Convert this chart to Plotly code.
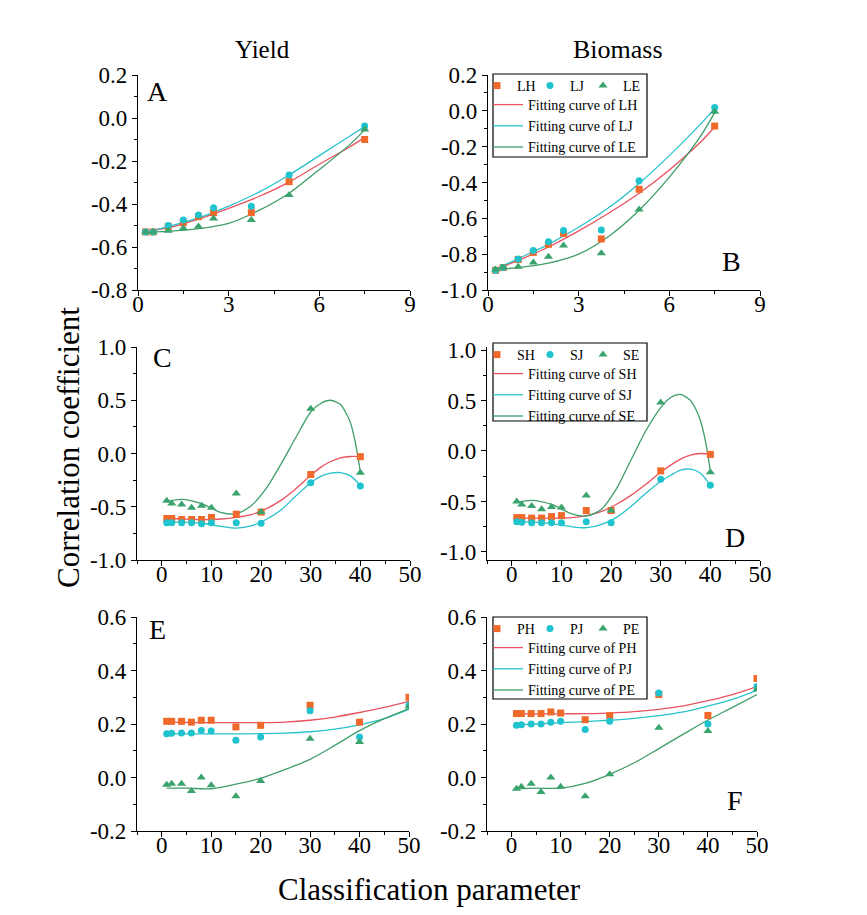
import plotly.graph_objects as go

W, H = 867, 915

# ---------------- data ----------------
# Panels A (Yield) / B (Biomass): L-series
x_L = [0.25, 0.5, 1, 1.5, 2, 2.5, 3.75, 5, 7.5]
A_LH = [-0.53, -0.53, -0.505, -0.487, -0.459, -0.44, -0.44, -0.296, -0.10]
A_LJ = [-0.53, -0.53, -0.50, -0.474, -0.451, -0.417, -0.41, -0.265, -0.037]
A_LE = [-0.53, -0.53, -0.524, -0.513, -0.505, -0.467, -0.474, -0.358, -0.053]
B_LH = [-0.89, -0.875, -0.83, -0.79, -0.745, -0.684, -0.715, -0.438, -0.085]
B_LJ = [-0.89, -0.875, -0.827, -0.78, -0.73, -0.668, -0.665, -0.39, 0.018]
B_LE = [-0.885, -0.875, -0.87, -0.847, -0.814, -0.752, -0.795, -0.55, -0.005]

xf_L = [0.25, 1, 2, 3, 4, 5, 6, 7, 7.5]
A_LH_fit = [-0.53, -0.51, -0.47, -0.42, -0.365, -0.298, -0.215, -0.135, -0.09]
A_LJ_fit = [-0.53, -0.505, -0.465, -0.41, -0.345, -0.265, -0.175, -0.085, -0.04]
A_LE_fit = [-0.53, -0.527, -0.515, -0.49, -0.43, -0.35, -0.24, -0.125, -0.055]
B_LH_fit = [-0.885, -0.835, -0.76, -0.67, -0.57, -0.46, -0.33, -0.18, -0.09]
B_LJ_fit = [-0.885, -0.825, -0.745, -0.65, -0.54, -0.405, -0.25, -0.08, 0.014]
B_LE_fit = [-0.885, -0.875, -0.85, -0.80, -0.70, -0.555, -0.37, -0.15, -0.01]

# Panels C / D: S-series
x_S = [1, 2, 4, 6, 8, 10, 15, 20, 30, 40]
C_SH = [-0.61, -0.61, -0.62, -0.62, -0.62, -0.60, -0.57, -0.55, -0.197, -0.03]
C_SJ = [-0.65, -0.65, -0.65, -0.65, -0.66, -0.65, -0.65, -0.656, -0.275, -0.306]
C_SE = [-0.444, -0.47, -0.48, -0.51, -0.49, -0.51, -0.375, -0.55, 0.42, -0.18]
D_SH = [-0.66, -0.66, -0.665, -0.665, -0.65, -0.64, -0.59, -0.59, -0.197, -0.034]
D_SJ = [-0.70, -0.705, -0.71, -0.71, -0.71, -0.71, -0.70, -0.71, -0.28, -0.34]
D_SE = [-0.50, -0.53, -0.545, -0.577, -0.555, -0.56, -0.44, -0.59, 0.48, -0.21]

xf_S = [1, 4, 8, 12, 15, 18, 21, 24, 27, 30, 32, 34, 36, 38, 40]
C_SH_fit = [-0.61, -0.615, -0.62, -0.615, -0.60, -0.575, -0.52, -0.44, -0.33, -0.205, -0.13, -0.075, -0.04, -0.028, -0.03]
C_SJ_fit = [-0.64, -0.645, -0.655, -0.685, -0.70, -0.68, -0.62, -0.53, -0.40, -0.275, -0.215, -0.185, -0.18, -0.21, -0.30]
D_SH_fit = [-0.665, -0.665, -0.665, -0.66, -0.64, -0.60, -0.53, -0.44, -0.33, -0.21, -0.14, -0.08, -0.04, -0.025, -0.03]
D_SJ_fit = [-0.70, -0.705, -0.72, -0.75, -0.76, -0.73, -0.66, -0.55, -0.42, -0.30, -0.24, -0.19, -0.18, -0.22, -0.34]
xf_SE = [1, 4, 8, 12, 15, 18, 21, 24, 27, 30, 32, 34, 36, 37, 38, 39, 40]
C_SE_fit = [-0.45, -0.43, -0.47, -0.555, -0.565, -0.49, -0.33, -0.10, 0.15, 0.39, 0.47, 0.50, 0.46, 0.39, 0.29, 0.10, -0.17]
D_SE_fit = [-0.51, -0.49, -0.53, -0.62, -0.645, -0.58, -0.38, -0.09, 0.20, 0.43, 0.53, 0.56, 0.50, 0.42, 0.30, 0.10, -0.20]

# Panels E / F: P-series
x_P = [1, 2, 4, 6, 8, 10, 15, 20, 30, 40, 50]
E_PH = [0.21, 0.21, 0.21, 0.207, 0.214, 0.214, 0.189, 0.195, 0.27, 0.207, 0.30]
E_PJ = [0.164, 0.165, 0.166, 0.166, 0.176, 0.174, 0.139, 0.151, 0.25, 0.151, 0.27]
E_PE = [-0.027, -0.023, -0.023, -0.05, 0.0, -0.029, -0.07, -0.013, 0.145, 0.133, 0.265]
F_PH = [0.239, 0.239, 0.239, 0.239, 0.245, 0.241, 0.216, 0.232, 0.31, 0.232, 0.37]
F_PJ = [0.195, 0.197, 0.20, 0.20, 0.207, 0.21, 0.179, 0.21, 0.316, 0.20, 0.34]
F_PE = [-0.042, -0.035, -0.023, -0.054, 0.0, -0.035, -0.07, 0.012, 0.186, 0.174, 0.33]

xf_P = [1, 5, 10, 15, 20, 25, 30, 35, 40, 45, 50]
E_PH_fit = [0.207, 0.206, 0.205, 0.205, 0.205, 0.207, 0.214, 0.226, 0.243, 0.262, 0.285]
E_PJ_fit = [0.163, 0.163, 0.163, 0.163, 0.164, 0.166, 0.171, 0.181, 0.197, 0.22, 0.255]
E_PE_fit = [-0.04, -0.04, -0.042, -0.025, -0.003, 0.03, 0.068, 0.12, 0.175, 0.22, 0.258]
F_PH_fit = [0.238, 0.238, 0.238, 0.239, 0.241, 0.246, 0.255, 0.268, 0.287, 0.31, 0.34]
F_PJ_fit = [0.197, 0.20, 0.205, 0.209, 0.214, 0.221, 0.231, 0.245, 0.267, 0.292, 0.326]
F_PE_fit = [-0.042, -0.04, -0.04, -0.022, 0.012, 0.055, 0.108, 0.162, 0.215, 0.262, 0.31]

# tick labels
xt_L = [0, 3, 6, 9]
xt_L_text = ["0", "3", "6", "9"]
xt_SP = [0, 10, 20, 30, 40, 50]
xt_SP_text = ["0", "10", "20", "30", "40", "50"]
yt_A = [-0.8, -0.6, -0.4, -0.2, 0.0, 0.2]
yt_A_text = ["-0.8", "-0.6", "-0.4", "-0.2", "0.0", "0.2"]
yt_B = [-1.0, -0.8, -0.6, -0.4, -0.2, 0.0, 0.2]
yt_B_text = ["-1.0", "-0.8", "-0.6", "-0.4", "-0.2", "0.0", "0.2"]
yt_CD = [-1.0, -0.5, 0.0, 0.5, 1.0]
yt_CD_text = ["-1.0", "-0.5", "0.0", "0.5", "1.0"]
yt_EF = [-0.2, 0.0, 0.2, 0.4, 0.6]
yt_EF_text = ["-0.2", "0.0", "0.2", "0.4", "0.6"]

# ---------------- style ----------------
FONT = "Liberation Serif"
MCOL = {"H": "#F0692A", "J": "#1EC3CD", "E": "#3AA36E"}
LCOL = {"H": "#E9525E", "J": "#27C2CB", "E": "#3F9D69"}
SYM = {"H": "square", "J": "circle", "E": "triangle-up"}
MSIZE = {"H": 7, "J": 7, "E": 8}
KEYS = ["H", "J", "E"]


def px_x(p):
    return p / W


def px_y(p):
    return 1 - p / H


fig = go.Figure()

panels = [
    (1, "L", x_L, {"H": A_LH, "J": A_LJ, "E": A_LE},
     {"H": (xf_L, A_LH_fit), "J": (xf_L, A_LJ_fit), "E": (xf_L, A_LE_fit)}, None),
    (2, "L", x_L, {"H": B_LH, "J": B_LJ, "E": B_LE},
     {"H": (xf_L, B_LH_fit), "J": (xf_L, B_LJ_fit), "E": (xf_L, B_LE_fit)}, ("legend", "legend2")),
    (3, "S", x_S, {"H": C_SH, "J": C_SJ, "E": C_SE},
     {"H": (xf_S, C_SH_fit), "J": (xf_S, C_SJ_fit), "E": (xf_SE, C_SE_fit)}, None),
    (4, "S", x_S, {"H": D_SH, "J": D_SJ, "E": D_SE},
     {"H": (xf_S, D_SH_fit), "J": (xf_S, D_SJ_fit), "E": (xf_SE, D_SE_fit)}, ("legend3", "legend4")),
    (5, "P", x_P, {"H": E_PH, "J": E_PJ, "E": E_PE},
     {"H": (xf_P, E_PH_fit), "J": (xf_P, E_PJ_fit), "E": (xf_P, E_PE_fit)}, None),
    (6, "P", x_P, {"H": F_PH, "J": F_PJ, "E": F_PE},
     {"H": (xf_P, F_PH_fit), "J": (xf_P, F_PJ_fit), "E": (xf_P, F_PE_fit)}, ("legend5", "legend6")),
]

for idx, pre, xs, ys, fits, leg in panels:
    xa = "x" if idx == 1 else f"x{idx}"
    ya = "y" if idx == 1 else f"y{idx}"
    for k in KEYS:
        fx, fy = fits[k]
        fig.add_trace(go.Scatter(
            x=fx, y=fy, mode="lines",
            line=dict(color=LCOL[k], width=1.3, shape="spline", smoothing=0.8),
            name=f"Fitting curve of {pre}{k}", xaxis=xa, yaxis=ya,
            showlegend=leg is not None, legend=leg[1] if leg else None,
            legendrank=10 + KEYS.index(k)))
    for k in KEYS:
        fig.add_trace(go.Scatter(
            x=xs, y=ys[k], mode="markers",
            marker=dict(symbol=SYM[k], size=MSIZE[k], color=MCOL[k], line=dict(width=0)),
            name=f"{pre}{k}", xaxis=xa, yaxis=ya,
            showlegend=leg is not None, legend=leg[0] if leg else None,
            legendwidth=30 if k == "E" else None,
            legendrank=1 + KEYS.index(k)))

# ---------------- axes ----------------
boxes = {  # pixel boxes (left, right, top, bottom)
    1: (138, 410, 75, 290),
    2: (488, 760, 75, 290),
    3: (137, 410, 347, 560),
    4: (487, 760, 347, 560),
    5: (137, 409, 617, 831),
    6: (487, 757, 617, 831),
}
xranges = {1: [0, 9], 2: [0, 9], 3: [-5, 50], 4: [-5, 50], 5: [-5, 50], 6: [-5, 50]}
yranges = {1: [-0.8, 0.2], 2: [-1.0, 0.2], 3: [-1.0, 1.0], 4: [-1.08, 1.03], 5: [-0.2, 0.6], 6: [-0.2, 0.6]}
xticks = {1: (xt_L, xt_L_text), 2: (xt_L, xt_L_text)}
for i in (3, 4, 5, 6):
    xticks[i] = (xt_SP, xt_SP_text)
yticks = {1: (yt_A, yt_A_text), 2: (yt_B, yt_B_text), 3: (yt_CD, yt_CD_text),
          4: (yt_CD, yt_CD_text), 5: (yt_EF, yt_EF_text), 6: (yt_EF, yt_EF_text)}
xminor = {1: 1.5, 2: 1.5, 3: 5, 4: 5, 5: 5, 6: 5}
yminor = {1: 0.1, 2: 0.1, 3: 0.25, 4: 0.25, 5: 0.1, 6: 0.1}

axis_common = dict(showline=True, linecolor="black", linewidth=1.2, ticks="outside",
                   ticklen=5, tickwidth=1, tickcolor="black", showgrid=False, zeroline=False,
                   tickfont=dict(family=FONT, size=23, color="black"), mirror=False,
                   automargin=False)

layout_axes = {}
for i, (l, r, t, b) in boxes.items():
    xk = "xaxis" if i == 1 else f"xaxis{i}"
    yk = "yaxis" if i == 1 else f"yaxis{i}"
    ya_ref = "y" if i == 1 else f"y{i}"
    xa_ref = "x" if i == 1 else f"x{i}"
    tv, tt = xticks[i]
    layout_axes[xk] = dict(axis_common, domain=[px_x(l), px_x(r)], range=xranges[i],
                           anchor=ya_ref, tickmode="array", tickvals=tv, ticktext=tt,
                           ticklabelstandoff=-12,
                           minor=dict(ticks="outside", ticklen=3, tickcolor="black",
                                      tick0=0, dtick=xminor[i], showgrid=False))
    tv, tt = yticks[i]
    layout_axes[yk] = dict(axis_common, domain=[px_y(b), px_y(t)], range=yranges[i],
                           anchor=xa_ref, tickmode="array", tickvals=tv, ticktext=tt,
                           minor=dict(ticks="outside", ticklen=3, tickcolor="black",
                                      tick0=0, dtick=yminor[i], showgrid=False))

# ---------------- legends ----------------
leg_font = dict(family=FONT, size=14, color="black")
legend_boxes = {  # (left, top, right, bottom) px of drawn frame
    2: (493, 74, 647, 157),
    4: (493, 343, 647, 421),
    6: (493, 617, 647, 699),
}
legends = {}
for (mk, lk), (l, t, r, b) in zip([("legend", "legend2"), ("legend3", "legend4"), ("legend5", "legend6")],
                                  legend_boxes.values()):
    legends[mk] = dict(x=px_x(l - 16), y=px_y(t - 4), xanchor="left", yanchor="top",
                       orientation="h", bgcolor="rgba(0,0,0,0)", borderwidth=0, font=leg_font,
                       entrywidth=8, entrywidthmode="pixels", itemwidth=30, tracegroupgap=0)
    legends[lk] = dict(x=px_x(l - 5), y=px_y(t + 15), xanchor="left", yanchor="top",
                       orientation="v", bgcolor="rgba(0,0,0,0)", borderwidth=0, font=leg_font,
                       itemwidth=30, tracegroupgap=0)

shapes = []
for (l, t, r, b) in legend_boxes.values():
    shapes.append(dict(type="rect", xref="paper", yref="paper", x0=px_x(l), x1=px_x(r),
                       y0=px_y(b), y1=px_y(t), line=dict(color="black", width=1.2)))

# ---------------- annotations ----------------
ann = []


def add_text(txt, cx, cy, size, angle=0):
    ann.append(dict(text=txt, x=px_x(cx), y=px_y(cy), xref="paper", yref="paper",
                    showarrow=False, xanchor="center", yanchor="middle", textangle=angle,
                    font=dict(family=FONT, size=size, color="black")))


add_text("Yield", 262, 50, 25)
add_text("Biomass", 618, 50, 26)
add_text("Correlation coefficient", 68, 448, 31, -90)
add_text("Classification parameter", 429, 889, 31)
for letter, cx, cy in [("A", 157, 91), ("B", 731, 261), ("C", 162, 358),
                       ("D", 735, 537), ("E", 157, 629), ("F", 735, 800)]:
    add_text(letter, cx, cy, 28)

fig.update_layout(
    width=W, height=H, margin=dict(l=0, r=0, t=0, b=0, pad=0, autoexpand=False),
    paper_bgcolor="white", plot_bgcolor="white",
    font=dict(family=FONT, color="black"),
    shapes=shapes, annotations=ann, **layout_axes, **legends,
)

fig.write_html("out.html")
